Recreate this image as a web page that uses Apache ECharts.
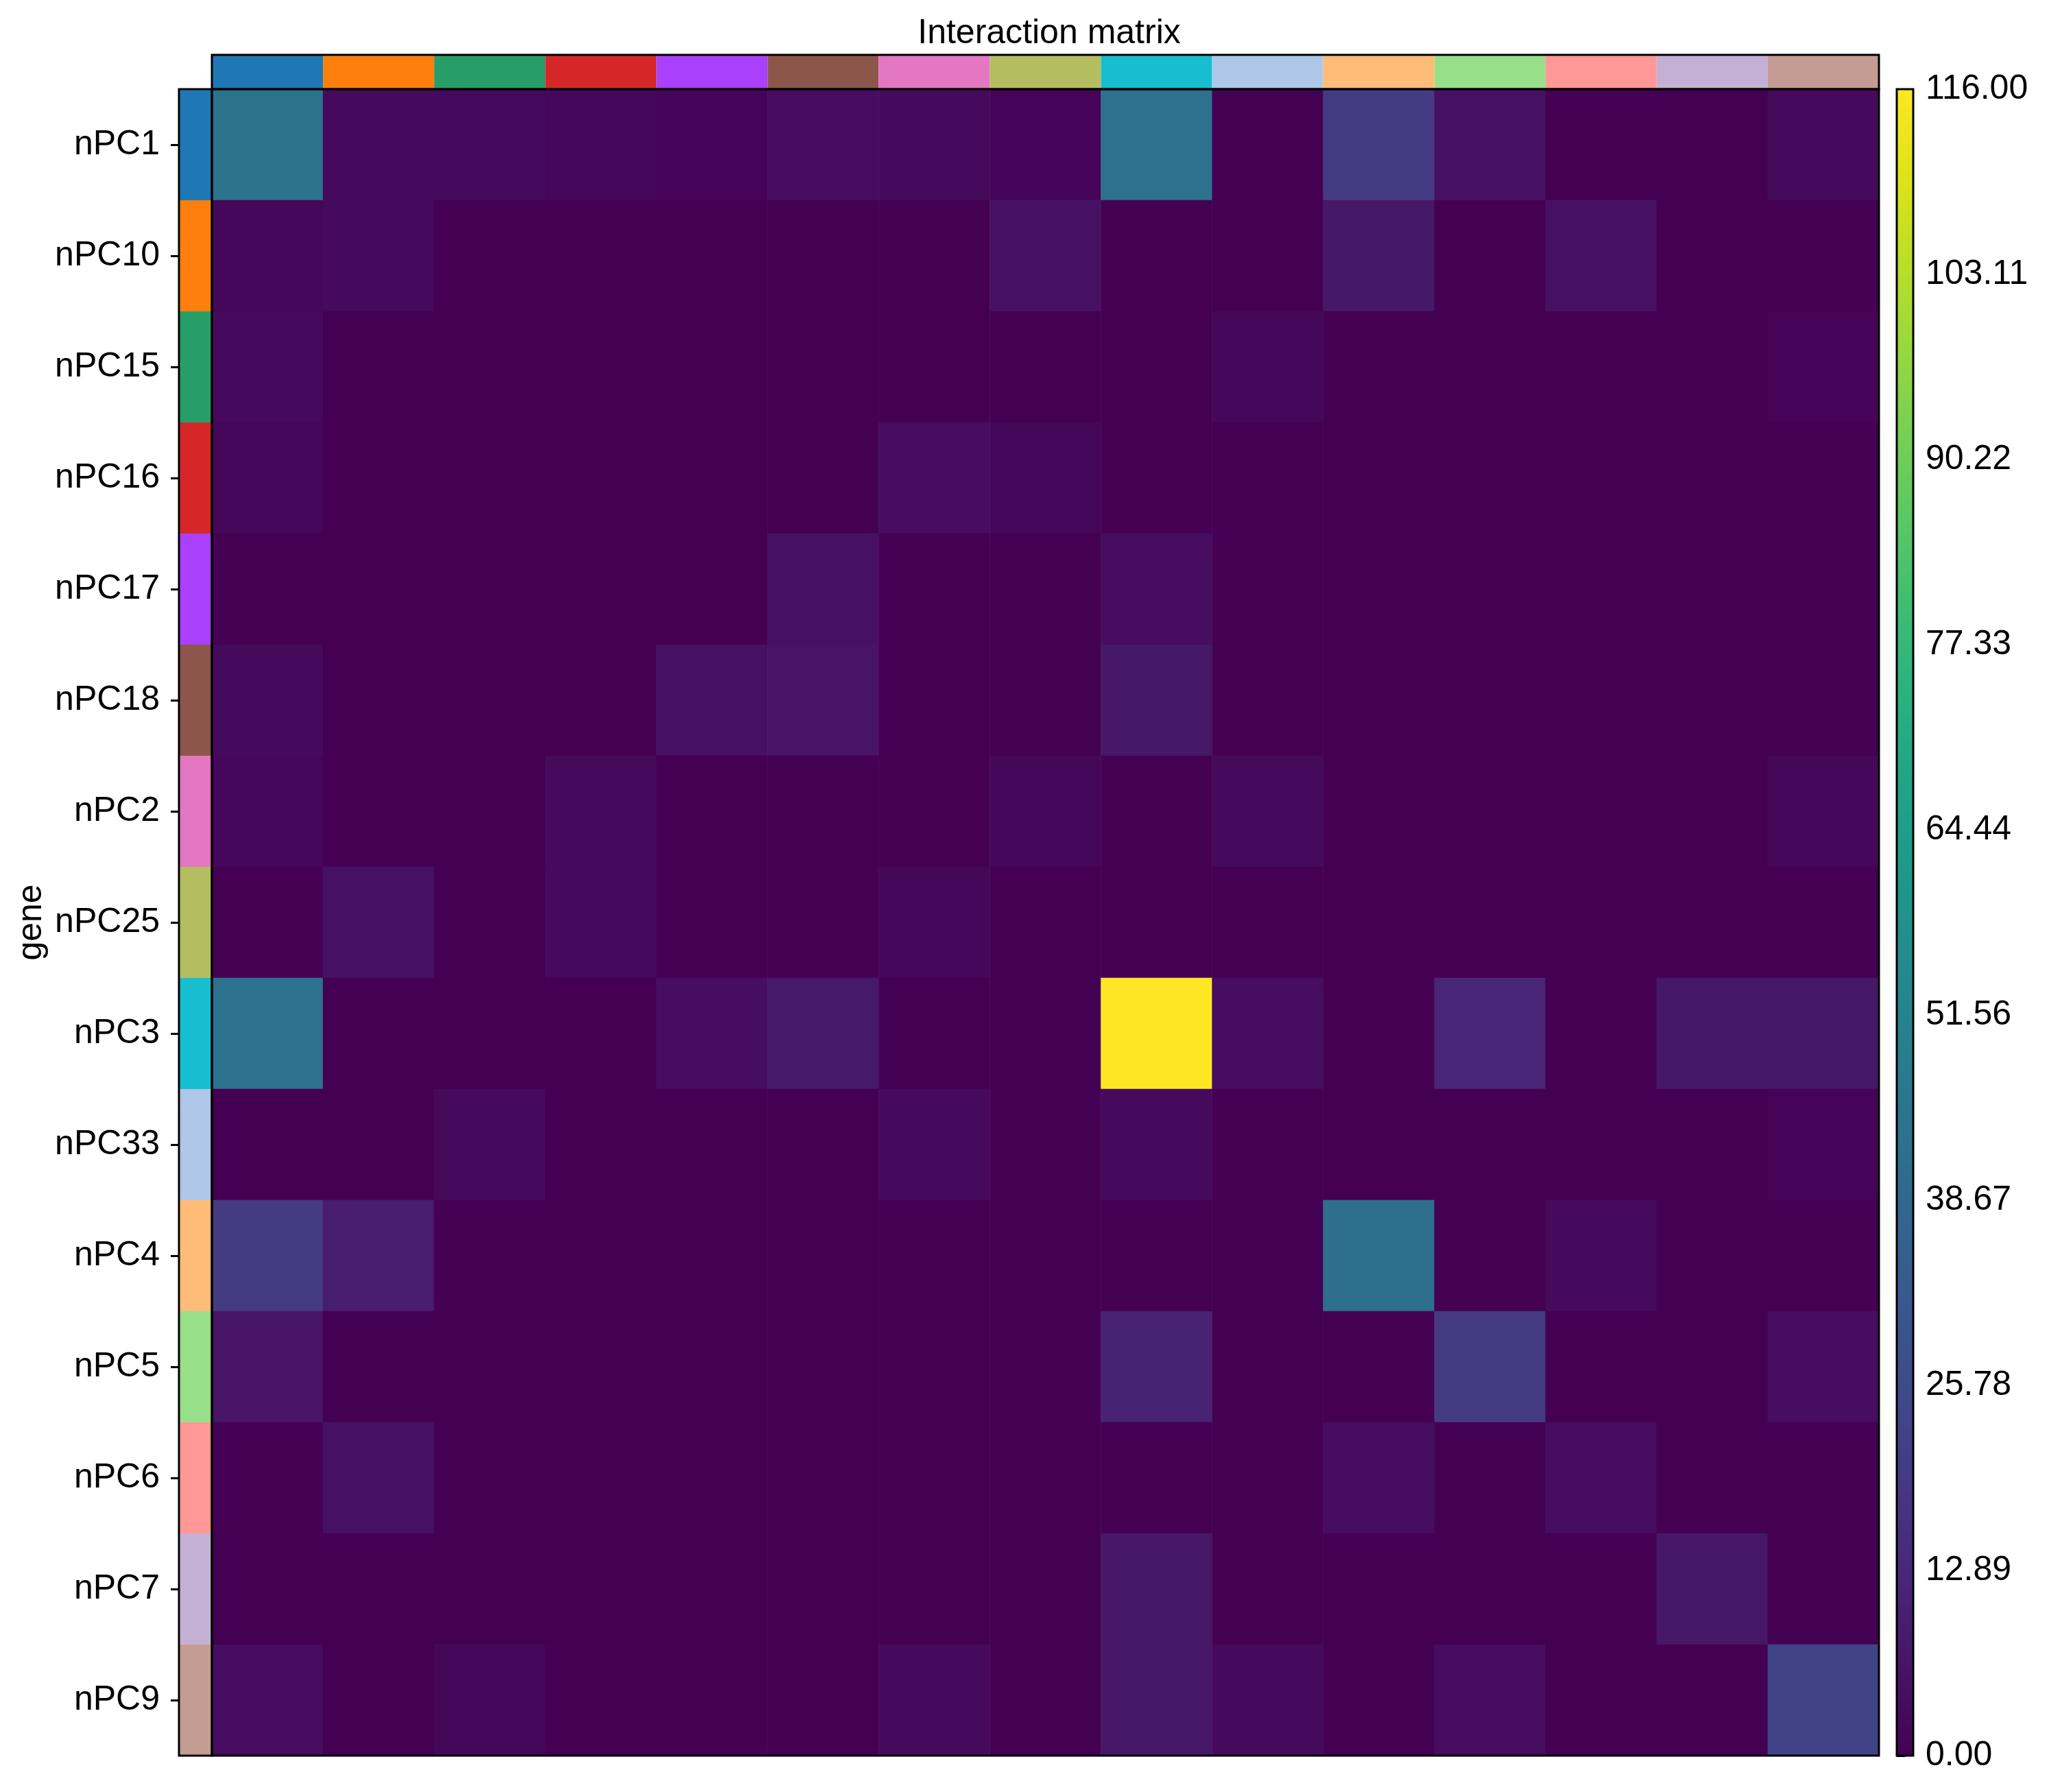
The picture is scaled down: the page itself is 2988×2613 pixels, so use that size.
<!DOCTYPE html>
<html>
<head>
<meta charset="utf-8">
<script src="https://cdn.jsdelivr.net/npm/echarts@6/dist/echarts.min.js"></script>
<style>
  html, body { margin: 0; padding: 0; background: #fff; }
  #chart { width: 2988px; height: 2613px; }
</style>
</head>
<body>
<div id="chart"></div>
<script>
// gene groups, same order on both axes
const genes = ["nPC1", "nPC10", "nPC15", "nPC16", "nPC17", "nPC18", "nPC2", "nPC25",
  "nPC3", "nPC33", "nPC4", "nPC5", "nPC6", "nPC7", "nPC9"];

const groupColors = ["#1f77b4", "#ff7f0e", "#279e68", "#d62728", "#aa40fc", "#8c564b",
  "#e377c2", "#b5bd61", "#17becf", "#aec7e8", "#ffbb78", "#98df8a", "#ff9896",
  "#c5b0d5", "#c49c94"];

// interaction counts, one row per gene (row order = genes)
const counts = [
  [44, 3, 3, 2, 1, 4, 3, 1, 43, 0, 20, 5, 0, 0, 3],
  [2, 3, 0, 0, 0, 0, 0, 5, 0, 0, 7, 0, 5, 0, 0],
  [3, 0, 0, 0, 0, 0, 0, 0, 0, 2, 0, 0, 0, 0, 1],
  [2, 0, 0, 0, 0, 0, 4, 2, 0, 0, 0, 0, 0, 0, 0],
  [0, 0, 0, 0, 0, 5, 0, 0, 4, 0, 0, 0, 0, 0, 0],
  [3, 0, 0, 0, 5, 6, 0, 0, 7, 0, 0, 0, 0, 0, 0],
  [2, 0, 0, 3, 0, 0, 0, 2, 0, 3, 0, 0, 0, 0, 2],
  [0, 5, 0, 3, 0, 0, 2, 0, 0, 0, 0, 0, 0, 0, 0],
  [43, 0, 0, 0, 4, 8, 0, 0, 116, 4, 0, 12, 0, 7, 7],
  [0, 0, 3, 0, 0, 0, 3, 0, 3, 0, 0, 0, 0, 0, 1],
  [20, 9, 0, 0, 0, 0, 0, 0, 0, 0, 42, 0, 3, 0, 0],
  [6, 0, 0, 0, 0, 0, 0, 0, 11, 0, 0, 20, 0, 0, 4],
  [0, 5, 0, 0, 0, 0, 0, 0, 0, 0, 4, 0, 4, 0, 0],
  [0, 0, 0, 0, 0, 0, 0, 0, 7, 0, 0, 0, 0, 7, 0],
  [4, 0, 2, 0, 0, 0, 3, 0, 7, 3, 0, 4, 0, 0, 23]
];

const vMin = 0;
const vMax = 116;

const viridis = ["#440154", "#471365", "#482475", "#463480", "#414487", "#3b528b",
  "#355f8d", "#2f6c8e", "#2a788e", "#25848e", "#21918c", "#1e9c89", "#22a884",
  "#2fb47c", "#44bf70", "#5ec962", "#7ad151", "#9bd93c", "#bddf26", "#dfe318", "#fde725"];

const FONT = "Liberation Sans";
const FS = 50;
const heatData = [];
counts.forEach((row, i) => row.forEach((v, j) => heatData.push([j, i, v])));

const topStrip = genes.map((g, i) => [i, 0, i]);
const leftStrip = genes.map((g, i) => [0, i, i]);

function renderCell(params, api) {
  const c = api.coord([api.value(0), api.value(1)]);
  const s = api.size([1, 1]);
  return {
    type: "rect",
    shape: { x: c[0] - s[0] / 2, y: c[1] - s[1] / 2, width: s[0], height: s[1] },
    style: { fill: groupColors[api.value(2)] }
  };
}

function renderColorbar(params, api) {
  const top = api.coord([0, api.value(1)]);
  const bot = api.coord([0, api.value(0)]);
  const cs = params.coordSys;
  return {
    type: "rect",
    shape: { x: cs.x, y: top[1], width: cs.width, height: bot[1] - top[1] },
    style: {
      fill: new echarts.graphic.LinearGradient(0, 1, 0, 0,
        viridis.map((c, k) => ({ offset: k / (viridis.length - 1), color: c })))
    }
  };
}

const frame = { show: true, borderColor: "#000", borderWidth: 3, z: 10 };
const hidden = { show: false };

const option = {
  animation: false,
  backgroundColor: "#fff",
  title: {
    text: "Interaction matrix",
    left: 1525,
    textAlign: "center",
    top: 19,
    textStyle: { fontFamily: FONT, fontSize: FS, fontWeight: "normal", color: "#000" }
  },
  grid: [
    Object.assign({ left: 309, top: 130, width: 2431, height: 2430 }, frame),
    Object.assign({ left: 309, top: 80, width: 2431, height: 50 }, frame),
    Object.assign({ left: 261, top: 130, width: 48, height: 2430 }, frame),
    Object.assign({ left: 2766, top: 130, width: 24, height: 2430 }, frame)
  ],
  xAxis: [
    { type: "category", gridIndex: 0, data: genes, axisLine: hidden, axisTick: hidden, axisLabel: hidden },
    { type: "category", gridIndex: 1, data: genes, axisLine: hidden, axisTick: hidden, axisLabel: hidden },
    { type: "category", gridIndex: 2, data: ["g"], axisLine: hidden, axisTick: hidden, axisLabel: hidden },
    { type: "value", gridIndex: 3, min: 0, max: 1, show: false }
  ],
  yAxis: [
    { type: "category", gridIndex: 0, data: genes, inverse: true, axisLine: hidden, axisTick: hidden, axisLabel: hidden },
    { type: "category", gridIndex: 1, data: ["g"], axisLine: hidden, axisTick: hidden, axisLabel: hidden },
    {
      type: "category", gridIndex: 2, data: genes, inverse: true,
      name: "gene", nameLocation: "middle", nameGap: 190,
      nameTextStyle: { fontFamily: FONT, fontSize: FS, color: "#000" },
      axisLine: hidden,
      axisTick: { show: true, alignWithLabel: true, length: 12, lineStyle: { color: "#000", width: 3 } },
      axisLabel: { fontFamily: FONT, fontSize: FS, color: "#000", margin: 28 }
    },
    {
      type: "value", gridIndex: 3, position: "right", min: vMin, max: vMax,
      interval: (vMax - vMin) / 9,
      axisLine: hidden, splitLine: hidden,
      axisTick: { show: true, length: 12, lineStyle: { color: "#000", width: 3 } },
      axisLabel: {
        fontFamily: FONT, fontSize: FS, color: "#000", margin: 18,
        formatter: (v) => v.toFixed(2)
      }
    }
  ],
  visualMap: {
    show: false,
    seriesIndex: 0,
    min: vMin,
    max: vMax,
    inRange: { color: viridis }
  },
  series: [
    { type: "heatmap", xAxisIndex: 0, yAxisIndex: 0, data: heatData },
    { type: "custom", xAxisIndex: 1, yAxisIndex: 1, data: topStrip, renderItem: renderCell },
    { type: "custom", xAxisIndex: 2, yAxisIndex: 2, data: leftStrip, renderItem: renderCell },
    { type: "custom", xAxisIndex: 3, yAxisIndex: 3, data: [[vMin, vMax]], renderItem: renderColorbar }
  ]
};

const myChart = echarts.init(document.getElementById("chart"));
myChart.setOption(option);
</script>
</body>
</html>
